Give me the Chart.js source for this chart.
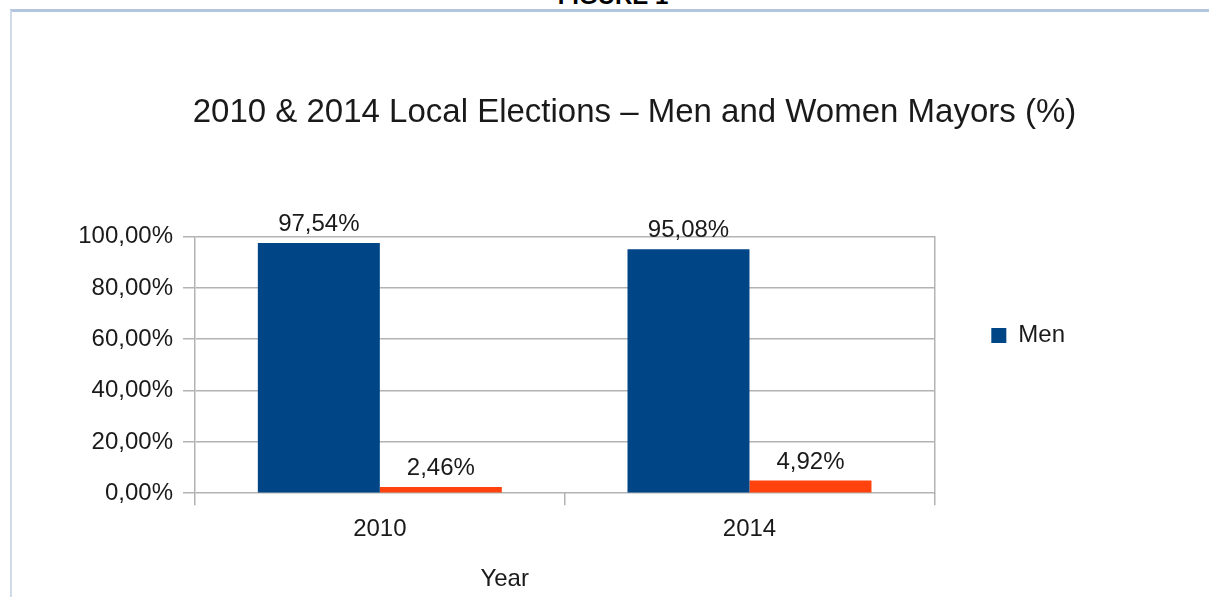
<!DOCTYPE html>
<html>
<head>
<meta charset="utf-8">
<script src="https://cdn.jsdelivr.net/npm/chart.js@4.4.0/dist/chart.umd.min.js"></script>
<style>
  html, body { margin: 0; padding: 0; background: #fff; overflow: hidden; }
  #wrap { position: relative; width: 1209px; height: 597px; overflow: hidden; }
  #frame {
    position: absolute; left: 10px; top: 9px; right: 0; bottom: 0;
    border-top: 3px solid #b4c6df; border-left: 2px solid #cfdaea;
  }
  #fig {
    position: absolute; left: 0; top: -16px; width: 1226px; text-align: center;
    font: bold 24px "Liberation Sans", Arial, sans-serif; line-height: 24px; color: #000;
  }
  #chart { position: absolute; left: 0; top: 0; }
</style>
</head>
<body>
<div id="wrap">
  <div id="frame"></div>
  <div id="fig">FIGURE 1</div>
  <canvas id="chart" width="1209" height="597"></canvas>
</div>
<script>
  // dữ liệu
  const YEARS = ["2010", "2014"];
  const MEN = [97.54, 95.08];
  const WOMEN = [2.46, 4.92];
  const Y_TICKS = [0, 20, 40, 60, 80, 100];

  const FONT = "'Liberation Sans', Arial, sans-serif";
  const GRID = "#b3b3b3";
  const TEXT = "#1a1a1a";

  const pct = v => v.toFixed(2).replace(".", ",") + "%";

  // nhãn giá trị phía trên cột
  const valueLabels = {
    id: "valueLabels",
    afterDatasetsDraw(chart) {
      const ctx = chart.ctx;
      ctx.save();
      ctx.font = "24px " + FONT;
      ctx.fillStyle = TEXT;
      ctx.textAlign = "center";
      ctx.textBaseline = "alphabetic";
      chart.data.datasets.forEach((ds, i) => {
        chart.getDatasetMeta(i).data.forEach((bar, j) => {
          ctx.fillText(pct(ds.data[j]), bar.x, bar.y - 12);
        });
      });
      ctx.restore();
    }
  };

  // tiêu đề trục X (lệch trái như bản gốc)
  const xTitle = {
    id: "xTitle",
    afterDraw(chart) {
      const { ctx, chartArea } = chart;
      const x = chart.scales.x;
      ctx.save();
      ctx.font = "24px " + FONT;
      ctx.fillStyle = TEXT;
      ctx.textAlign = "center";
      ctx.textBaseline = "middle";
      ctx.fillText("Year", (chartArea.left + chartArea.right) / 2 - 60, x.bottom + 25);
      ctx.restore();
    }
  };

  new Chart(document.getElementById("chart"), {
    type: "bar",
    data: {
      labels: YEARS,
      datasets: [
        { label: "Men", data: MEN, backgroundColor: "#004586", borderWidth: 0 },
        { label: "Women", data: WOMEN, backgroundColor: "#ff420e", borderWidth: 0 }
      ]
    },
    options: {
      responsive: false,
      animation: false,
      layout: { padding: { left: 70, right: 10, top: 0, bottom: 43 } },
      datasets: { bar: { categoryPercentage: 0.66, barPercentage: 1 } },
      scales: {
        x: {
          offset: true,
          grid: { offset: true, drawOnChartArea: false, color: GRID, lineWidth: 1.5, tickLength: 12 },
          border: { display: false },
          ticks: { color: TEXT, font: { family: FONT, size: 24 }, padding: 10 }
        },
        y: {
          min: 0, max: 100,
          afterBuildTicks: s => { s.ticks = Y_TICKS.map(v => ({ value: v })); },
          afterFit: s => { s.width = 125; },
          grid: { color: GRID, lineWidth: 1.5, tickLength: 12 },
          border: { display: true, color: GRID, width: 1.5 },
          ticks: { color: TEXT, font: { family: FONT, size: 24 }, padding: 10, callback: v => pct(v) }
        },
        // viền phải của vùng vẽ
        y2: {
          position: "right",
          type: "linear",
          afterFit: s => { s.width = 0; },
          grid: { display: false },
          border: { display: true, color: GRID, width: 1.5 },
          ticks: { display: false }
        },
        // khoảng trống bên phải chú giải
        pad: {
          position: "right",
          type: "linear",
          weight: 2000,
          afterFit: s => { s.width = 124; },
          grid: { display: false },
          border: { display: false },
          ticks: { display: false }
        }
      },
      plugins: {
        title: {
          display: true,
          text: "2010 & 2014 Local Elections \u2013 Men and Women Mayors (%)",
          color: TEXT,
          font: { family: FONT, size: 33, weight: "normal" },
          padding: { top: 93, bottom: 104 }
        },
        legend: {
          position: "right",
          fullSize: false,
          align: "start",
          // tiêu đề rỗng chỉ để đẩy mục chú giải xuống
          title: { display: true, text: "", font: { size: 30, lineHeight: 1 }, padding: 0 },
          labels: {
            color: TEXT,
            font: { family: FONT, size: 24 },
            boxWidth: 15, boxHeight: 15, padding: 57,
            filter: item => item.text === "Men"
          }
        },
        tooltip: { enabled: false }
      }
    },
    plugins: [valueLabels, xTitle]
  });
</script>
</body>
</html>
